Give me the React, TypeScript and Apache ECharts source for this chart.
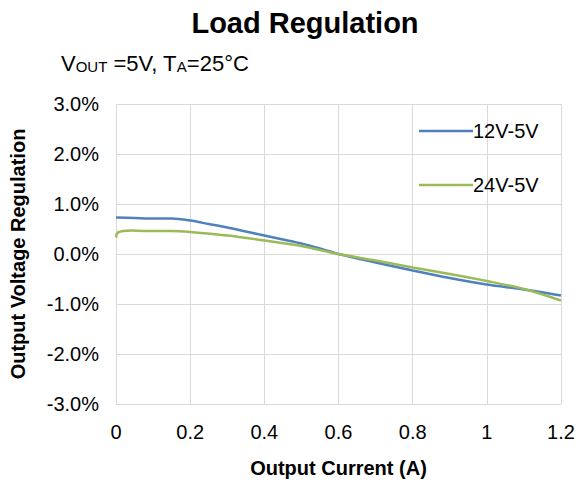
import React, { useEffect, useRef } from "react";
import * as echarts from "echarts";

const currentA: number[] = [0, 0.05, 0.1, 0.15, 0.2, 0.25, 0.3, 0.35, 0.4, 0.45, 0.5, 0.55, 0.6, 0.7, 0.8, 0.9, 1.0, 1.1, 1.2];
const reg12V: number[] = [0.73, 0.72, 0.71, 0.71, 0.67, 0.6, 0.53, 0.45, 0.37, 0.29, 0.21, 0.11, 0.0, -0.17, -0.33, -0.48, -0.61, -0.71, -0.83];

const currentB: number[] = [0, 0.005, 0.04, 0.08, 0.15, 0.2, 0.3, 0.4, 0.5, 0.55, 0.6, 0.7, 0.8, 0.9, 1.0, 1.1, 1.2];
const reg24V: number[] = [0.33, 0.43, 0.47, 0.46, 0.46, 0.44, 0.37, 0.27, 0.16, 0.08, 0.0, -0.13, -0.27, -0.4, -0.54, -0.7, -0.93];

const seriesNames = ["12V-5V", "24V-5V"];
const colors = ["#4F81BD", "#9BBB59"];

const FONT = "Liberation Sans, Arial, sans-serif";

export default function App() {
  const ref = useRef<HTMLDivElement>(null);
  useEffect(() => {
    document.body.style.margin = "0";
    if (!ref.current) return;
    const chart = echarts.init(ref.current, undefined, { renderer: "svg" });
    chart.setOption({
      animation: false,
      backgroundColor: "#ffffff",
      textStyle: { fontFamily: FONT },
      title: [
        {
          text: "Load Regulation",
          left: 300,
          top: 3,
          textAlign: "center",
          textStyle: { fontSize: 29, fontWeight: "bold", color: "#000", fontFamily: FONT },
        },
        {
          text: "{m|V}{s|OUT}{m| =5V, T}{s|A}{m|=25°C}",
          left: 56,
          top: 47,
          textStyle: {
            fontFamily: FONT,
            fontWeight: "normal",
            rich: {
              m: { fontSize: 22, color: "#000", fontFamily: FONT, fontWeight: "normal", verticalAlign: "bottom" },
              s: { fontSize: 15, color: "#000", fontFamily: FONT, fontWeight: "normal", verticalAlign: "bottom" },
            },
          },
        },
      ],
      legend: {
        orient: "vertical",
        left: 414,
        top: 116,
        itemWidth: 54,
        itemHeight: 14,
        itemGap: 34,
        icon: "path://M0,6 L54,6 L54,8.5 L0,8.5 Z",
        textStyle: { fontSize: 20, color: "#000", fontFamily: FONT, padding: [0, 0, 0, -5] },
        data: seriesNames,
      },
      grid: { left: 113, right: 22, top: 104, bottom: 77, containLabel: false },
      xAxis: {
        type: "value",
        min: 0,
        max: 1.2,
        interval: 0.2,
        name: "Output Current (A)",
        nameLocation: "middle",
        nameGap: 54,
        nameTextStyle: { fontSize: 20, fontWeight: "bold", color: "#000", fontFamily: FONT },
        axisLine: { show: false },
        axisTick: { show: false },
        axisLabel: {
          fontSize: 20,
          color: "#000",
          margin: 18,
          fontFamily: FONT,
          formatter: (v: number) => String(Math.round(v * 10) / 10),
        },
        splitLine: { show: true, lineStyle: { color: "#d9d9d9", width: 1 } },
      },
      yAxis: {
        type: "value",
        min: -3,
        max: 3,
        interval: 1,
        name: "Output Voltage Regulation",
        nameLocation: "middle",
        nameGap: 88,
        nameTextStyle: { fontSize: 20, fontWeight: "bold", color: "#000", fontFamily: FONT },
        axisLine: { show: false },
        axisTick: { show: false },
        axisLabel: {
          fontSize: 20,
          color: "#000",
          margin: 17,
          fontFamily: FONT,
          formatter: (v: number) => v.toFixed(1) + "%",
        },
        splitLine: { show: true, lineStyle: { color: "#d9d9d9", width: 1 } },
      },
      series: [
        {
          name: seriesNames[0],
          type: "line",
          data: currentA.map((x, i) => [x, reg12V[i]]),
          smooth: 0.3,
          showSymbol: false,
          symbol: "none",
          lineStyle: { color: colors[0], width: 2.5 },
          itemStyle: { color: colors[0] },
        },
        {
          name: seriesNames[1],
          type: "line",
          data: currentB.map((x, i) => [x, reg24V[i]]),
          smooth: 0.3,
          showSymbol: false,
          symbol: "none",
          lineStyle: { color: colors[1], width: 2.5 },
          itemStyle: { color: colors[1] },
        },
      ],
    });
    return () => chart.dispose();
  }, []);
  return <div ref={ref} style={{ width: 583, height: 483 }} />;
}
